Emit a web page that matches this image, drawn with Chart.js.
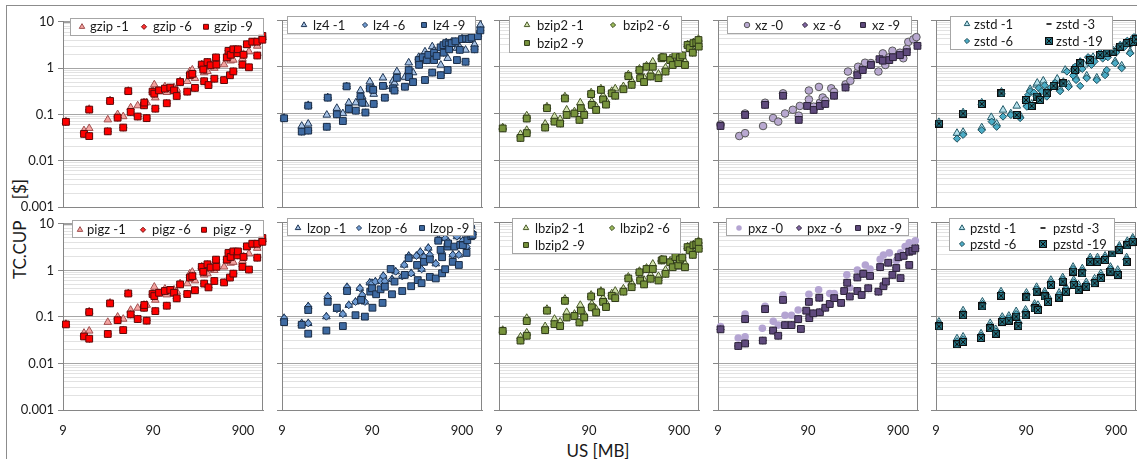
<!DOCTYPE html>
<html>
<head>
<meta charset="utf-8">
<title>TC.CUP vs US</title>
<script src="https://cdn.jsdelivr.net/npm/chart.js@4.4.1/dist/chart.umd.min.js"></script>
<style>
  body { margin: 0; width: 1137px; height: 459px; overflow: hidden; position: relative; background: #fff; font-family: Lato, sans-serif; }
  #frame { position: absolute; left: 6px; top: 5px; width: 1200px; height: 500px; border: 1px solid #8c8c8c; }
  canvas { position: absolute; }
  .title { position: absolute; font-size: 17px; color: #1a1a1a; white-space: pre; }
  #ytitle { left: 19px; top: 229px; transform: translate(-50%, -50%) rotate(-90deg); }
  #xtitle { left: 598px; top: 450px; transform: translate(-50%, -50%); }
</style>
</head>
<body>
<div id="frame"></div>
<div class="title" id="ytitle">TC.CUP     [$]</div>
<div class="title" id="xtitle">US [MB]</div>
<script>
// axis ticks
const xTicks = [9, 90, 900];
const yTicks = [0.001, 0.01, 0.1, 1, 10];
const yMinor = [2, 3, 4, 5, 6, 7, 8, 9];

// [US MB, TC.CUP $]
const gzip1 = [[9.7,0.07],[15.4,0.045],[17.6,0.05],[17.6,0.13],[28.3,0.077],[30,0.2],[36.4,0.1],[42,0.09],[47.8,0.32],[50.8,0.14],[60.8,0.155],[71.5,0.18],[76.5,0.18],[89,0.33],[93,0.44],[95.5,0.23],[122,0.4],[128,0.3],[154,0.38],[165,0.35],[180,0.52],[216,0.52],[231,0.85],[246,0.92],[263,0.6],[313,1.2],[326,1.0],[333,0.8],[362,0.85],[393,1.2],[432,1.0],[451,1.6],[554,1.19],[594,1.6],[620,2.2],[656,1.44],[702,1.5],[781,2.2],[886,1.6],[911,2.0],[993,3.1],[1047,2.28],[1140,3.5],[1295,3.0],[1477,4.6]];
const gzip9 = [[9.7,0.069],[15.4,0.038],[17.6,0.034],[17.6,0.127],[28.3,0.043],[30,0.195],[36.4,0.085],[42,0.052],[47.8,0.318],[50.8,0.113],[60.8,0.09],[71.5,0.157],[72,0.18],[76.5,0.083],[89,0.31],[93,0.28],[95.5,0.133],[105,0.33],[122,0.36],[128,0.174],[140,0.38],[154,0.33],[165,0.25],[180,0.5],[216,0.31],[231,0.7],[246,0.75],[263,0.374],[313,1.19],[326,0.93],[333,0.52],[362,1.35],[372,0.43],[393,1.15],[432,0.59],[451,1.7],[455,1.19],[554,0.55],[594,1.7],[620,2.36],[644,0.7],[656,1.94],[702,0.85],[702,2.55],[781,2.1],[790,2.55],[886,1.19],[911,1.94],[993,3.27],[1047,1.04],[1140,3.73],[1295,1.87],[1295,3.73],[1477,4.95],[1477,4.1]];
const gzip6 = gzip9; // diamonds sit under the squares

const lz4_1 = [[9.5,0.08],[14.9,0.054],[17.6,0.06],[17.6,0.15],[28.3,0.093],[29,0.22],[36.6,0.13],[42.7,0.1],[47,0.38],[49.7,0.17],[59.5,0.17],[67,0.31],[70,0.23],[76,0.16],[85,0.48],[92.7,0.35],[94,0.26],[119,0.58],[125,0.38],[154,0.5],[160,0.45],[170,0.79],[209,0.6],[230,1.22],[232,0.85],[257,0.75],[297,1.6],[300,1.4],[349,2.1],[365,1.5],[420,2.7],[440,2.2],[523,1.09],[563,2.5],[600,3.3],[623,1.52],[648,2.6],[690,3.4],[790,2.5],[850,2.6],[900,4.0],[985,2.28],[1080,4.1],[1240,3.0],[1350,5.0],[1440,7.8]];
const lz4_9 = [[9.5,0.079],[14.9,0.041],[17.6,0.043],[17.6,0.147],[28.3,0.052],[29,0.218],[36.6,0.096],[42.7,0.069],[47,0.38],[49.7,0.125],[59.5,0.115],[67,0.23],[70,0.17],[76,0.105],[85,0.345],[92.7,0.32],[94,0.16],[119,0.39],[125,0.218],[154,0.345],[160,0.31],[170,0.58],[209,0.374],[230,0.85],[232,0.6],[257,0.47],[297,1.39],[300,1.1],[330,1.6],[349,0.52],[365,1.39],[380,1.8],[420,0.75],[440,2.0],[440,1.39],[470,1.7],[520,2.6],[523,0.66],[560,2.9],[563,2.0],[600,3.2],[623,0.85],[640,3.0],[648,2.36],[690,3.2],[760,3.5],[790,1.39],[850,2.3],[900,3.9],[985,1.28],[1000,4.0],[1080,3.9],[1150,4.2],[1240,2.36],[1350,4.5],[1440,6.0]];
const lz4_6 = lz4_9;

const lzop6 = [[9.5,0.09],[14.9,0.07],[17.6,0.07],[17.6,0.16],[28,0.097],[29,0.26],[36.6,0.14],[42.7,0.11],[47.5,0.41],[49.7,0.17],[59,0.2],[66,0.39],[70,0.28],[75,0.2],[85,0.51],[90,0.5],[91,0.33],[98,0.54],[112,0.56],[120,0.71],[125,0.55],[150,0.6],[165,0.88],[195,0.7],[205,1.22],[230,1.9],[245,0.81],[280,1.9],[310,2.3],[320,0.99],[340,1.8],[380,2.8],[395,2.0],[460,1.3],[490,4.3],[540,2.2],[585,4.5],[630,3.8],[710,2.0],[790,4.9],[830,2.0],[920,4.0],[1010,3.0],[1140,8.2],[1180,6.0]];
const lzop1 = lzop6;
const lzop9 = [[9.5,0.074],[14.9,0.065],[17.6,0.042],[17.6,0.134],[28,0.049],[29,0.2],[36.6,0.15],[42.7,0.061],[47.5,0.34],[59,0.104],[68,0.22],[75,0.097],[86,0.33],[90,0.39],[91,0.15],[100,0.29],[112,0.37],[118,0.19],[125,0.42],[145,1.0],[150,0.29],[160,0.54],[195,0.34],[208,0.75],[230,1.7],[245,0.43],[285,1.22],[290,0.58],[320,0.5],[340,1.42],[395,1.6],[395,0.68],[460,0.63],[490,4.0],[520,2.55],[540,1.78],[540,0.81],[585,0.99],[620,3.0],[630,3.5],[710,1.42],[740,3.0],[830,1.22],[860,3.25],[920,3.2],[1010,2.2],[1030,4.1],[1140,5.0],[1180,5.3]];

const bzip2_1 = [[9.9,0.05],[15.6,0.036],[18.3,0.044],[18.3,0.09],[29.3,0.06],[30.7,0.14],[37.2,0.086],[43,0.075],[48.6,0.23],[50.8,0.12],[62,0.11],[72,0.17],[79.6,0.11],[95,0.28],[96.7,0.18],[108,0.14],[122,0.34],[129,0.24],[139,0.19],[161,0.3],[176,0.34],[217,0.38],[246,0.68],[268,0.5],[327,0.9],[333,0.65],[368,0.58],[392,1.05],[435,0.75],[460,1.28],[532,0.7],[577,1.6],[637,0.95],[717,1.5],[766,1.3],[884,1.4],[922,1.75],[1048,1.3],[1120,3.0],[1280,2.3],[1300,3.3],[1480,3.9]];
const bzip2_9 = [[9.9,0.048],[15.6,0.03],[18.3,0.038],[18.3,0.078],[29.3,0.05],[30.7,0.13],[37.2,0.067],[43,0.061],[48.6,0.21],[50.8,0.093],[62,0.1],[70.5,0.073],[73,0.13],[79.6,0.093],[95,0.26],[96.7,0.153],[108,0.119],[122,0.32],[129,0.2],[139,0.155],[161,0.27],[176,0.24],[217,0.33],[246,0.63],[268,0.41],[327,0.85],[333,0.57],[368,0.47],[392,1.0],[435,0.62],[460,1.0],[532,0.57],[577,1.52],[600,1.6],[637,0.79],[717,1.39],[766,1.09],[820,1.8],[884,1.19],[922,1.6],[980,1.75],[1048,1.09],[1120,2.92],[1180,2.5],[1280,2.0],[1300,3.2],[1400,3.3],[1480,3.73],[1490,2.7]];
const bzip2_6 = bzip2_9;

const xz0 = [[9.6,0.058],[15.5,0.033],[18,0.038],[18,0.1],[28.5,0.054],[30,0.17],[36.8,0.08],[42,0.067],[47.5,0.27],[50,0.1],[61,0.12],[71,0.09],[73,0.145],[92,0.31],[92,0.2],[104,0.14],[119,0.37],[122,0.17],[131,0.22],[140,0.19],[163,0.345],[175,0.29],[235,0.42],[250,0.79],[266,0.5],[318,0.75],[324,1.0],[365,0.95],[387,1.22],[450,1.2],[545,0.79],[610,1.93],[650,1.09],[720,1.6],[780,2.2],[945,2.0],[1030,1.52],[1125,2.4],[1170,3.4],[1330,3.86],[1440,4.3]];
const xz9 = [[9.6,0.054],[18,0.093],[30,0.153],[47.5,0.24],[71,0.073],[88,0.145],[104,0.119],[122,0.145],[140,0.16],[175,0.24],[235,0.36],[318,0.66],[365,0.85],[450,1.09],[560,1.45],[610,1.35],[720,1.39],[790,1.6],[945,1.78],[1125,2.05],[1480,2.8]];
const xz6 = xz9;

const pxz0 = [[9.6,0.06],[15.1,0.034],[18,0.036],[18,0.11],[28,0.055],[30,0.16],[37,0.077],[42,0.064],[47.5,0.28],[50,0.104],[59,0.104],[70,0.134],[92,0.29],[118,0.36],[157,0.3],[176,0.3],[243,0.75],[262,0.4],[318,0.95],[390,1.22],[440,1.0],[570,1.6],[620,1.98],[720,2.2],[860,1.5],[960,2.2],[1080,3.0],[1200,3.6],[1400,4.0]];
const pxz9 = [[9.6,0.052],[15.1,0.023],[18,0.026],[18,0.086],[28.3,0.03],[30,0.14],[36.8,0.049],[42,0.038],[47.5,0.22],[50,0.064],[59,0.064],[70,0.086],[75,0.053],[86,0.13],[93,0.09],[92,0.2],[103,0.114],[120,0.245],[122,0.12],[140,0.15],[157,0.18],[176,0.24],[210,0.19],[227,0.34],[245,0.51],[262,0.26],[318,0.66],[318,0.34],[355,0.28],[370,0.79],[420,0.39],[440,0.71],[545,0.33],[570,1.1],[620,0.43],[660,0.54],[700,1.36],[780,0.75],[860,1.05],[910,1.78],[960,0.64],[1040,1.9],[1200,1.22],[1200,2.33],[1300,2.45],[1400,2.75]];
const pxz6 = pxz9;

const zstd1 = [[9.7,0.065],[15.4,0.038],[18,0.04],[18,0.105],[29,0.05],[29,0.17],[37,0.083],[42.5,0.06],[48,0.29],[50,0.119],[61,0.1],[71,0.145],[77.5,0.09],[90,0.2],[92,0.16],[100,0.33],[104,0.16],[118,0.41],[120,0.45],[129,0.22],[140,0.5],[153,0.3],[182,0.42],[200,0.55],[215,0.34],[234,0.47],[245,0.85],[267,0.42],[300,0.9],[316,0.9],[324,0.58],[360,1.25],[400,1.1],[425,0.64],[463,1.45],[500,1.6],[550,0.58],[600,1.9],[680,0.75],[700,1.8],[710,2.0],[840,2.2],[880,1.3],[900,2.3],[1000,2.8],[1040,1.05],[1100,3.0],[1180,3.3],[1290,2.1],[1390,3.6],[1500,4.0]];
const zstd6 = [[15.4,0.029],[18,0.035],[29,0.044],[37.4,0.067],[42.5,0.052],[50,0.086],[61,0.093],[77.5,0.08],[92,0.14],[95,0.25],[100,0.3],[110,0.28],[118,0.23],[125,0.35],[135,0.3],[145,0.4],[153,0.23],[170,0.36],[190,0.45],[215,0.3],[256,0.79],[267,0.37],[300,0.65],[316,1.0],[324,0.52],[330,0.8],[360,0.39],[360,1.3],[380,0.9],[425,0.57],[440,1.6],[480,1.1],[520,1.3],[550,0.52],[600,2.0],[640,1.5],[680,0.66],[710,0.85],[730,1.6],[770,2.4],[880,1.19],[900,2.0],[1000,2.9],[1040,0.93],[1100,2.6],[1200,3.6],[1290,1.94],[1300,3.0],[1420,4.3]];
const zstd19 = [[9.7,0.061],[18,0.1],[29,0.16],[48,0.27],[71,0.093],[90,0.195],[104,0.145],[118,0.23],[129,0.195],[153,0.27],[182,0.39],[234,0.44],[316,0.85],[360,1.19],[463,1.39],[600,1.78],[710,1.94],[840,2.1],[1000,2.7],[1180,3.2],[1390,3.4],[1500,3.86]];
const zstd3 = zstd19;

const pzstd1 = [[9.7,0.075],[15.4,0.033],[18,0.036],[18,0.13],[28.5,0.042],[29.5,0.2],[36,0.07],[41.5,0.052],[47.5,0.33],[49,0.095],[58,0.1],[70,0.125],[74,0.078],[89,0.135],[91,0.31],[112,0.18],[118,0.41],[122,0.17],[145,0.33],[158,0.26],[170,0.58],[210,0.31],[230,0.66],[250,0.41],[300,1.1],[305,0.58],[345,0.46],[380,1.02],[420,0.52],[465,1.75],[520,0.62],[560,1.75],[610,0.8],[680,1.9],[780,1.1],[820,2.6],[940,0.95],[980,3.1],[1180,1.75],[1200,3.9],[1380,4.6]];
const pzstd6 = [[9.7,0.068],[15.4,0.029],[18,0.032],[18,0.115],[28.5,0.038],[29.5,0.18],[36,0.062],[41.5,0.047],[47.5,0.3],[49,0.085],[58,0.09],[70,0.11],[74,0.07],[89,0.12],[91,0.28],[112,0.165],[118,0.37],[122,0.15],[145,0.3],[158,0.23],[170,0.52],[210,0.28],[230,0.6],[250,0.37],[300,1.0],[305,0.52],[345,0.41],[380,0.92],[420,0.47],[465,1.6],[520,0.56],[560,1.6],[610,0.72],[680,1.75],[780,1.0],[820,2.4],[940,0.85],[980,2.9],[1180,1.6],[1200,3.6],[1380,4.3]];
const pzstd19 = [[9.7,0.06],[15.4,0.025],[18,0.028],[18,0.104],[28.5,0.034],[29.5,0.16],[36,0.055],[41.5,0.042],[47.5,0.27],[49,0.075],[58,0.08],[70,0.097],[74,0.061],[89,0.104],[91,0.25],[112,0.145],[118,0.33],[122,0.134],[145,0.26],[158,0.2],[170,0.46],[210,0.245],[230,0.54],[250,0.33],[300,0.88],[305,0.46],[345,0.36],[380,0.81],[420,0.42],[465,1.42],[520,0.5],[560,1.42],[610,0.64],[680,1.55],[780,0.88],[820,2.15],[940,0.75],[980,2.55],[1180,1.42],[1200,3.2],[1380,3.8]];
const pzstd3 = pzstd19;

// markers
function crossSquare(fill) {
    const c = document.createElement('canvas');
    c.width = 8; c.height = 8;
    const g = c.getContext('2d');
    g.fillStyle = fill;
    g.fillRect(0, 0, 8, 8);
    g.strokeStyle = '#0d0d0d';
    g.lineWidth = 1;
    g.strokeRect(0.5, 0.5, 7, 7);
    g.beginPath();
    g.moveTo(1.5, 1.5); g.lineTo(6.5, 6.5);
    g.moveTo(6.5, 1.5); g.lineTo(1.5, 6.5);
    g.stroke();
    return c;
}
const TRI = (fill, line) => ({ style: 'triangle', r: 4.4, fill, line, bw: 1 });
const DIA = (fill, line) => ({ style: 'rectRot', r: 3.6, fill, line, bw: 1 });
const SQ = (fill, line) => ({ style: 'rect', r: 4.8, fill, line, bw: 1 });
const CIR = (fill, line, bw) => ({ style: 'circle', r: 3.8, fill, line, bw });
const DASH = (line) => ({ style: 'line', r: 3.5, fill: line, line, bw: 2 });
const XSQ = (fill) => ({ style: crossSquare(fill), r: 4.5, fill, line: '#0d0d0d', bw: 1 });

const zstdMarks = [TRI('#b7e1ec', '#235a68'), DASH('#3a3a3a'), DIA('#4bacc6', '#1f4e5a'), XSQ('#23707f')];

const panels = [
    { col: 0, row: 0, series: [
        ['gzip -1', gzip1, TRI('#f4a3a0', '#a05050')],
        ['gzip -6', gzip6, DIA('#ff3030', '#7a1010')],
        ['gzip -9', gzip9, SQ('#ff0000', '#5c0a0a')]],
      legend: { box: [7, -4, 193, 17], items: [[0, 19, 27, 5], [1, 81, 90, 5], [2, 143, 151, 5]] } },
    { col: 1, row: 0, series: [
        ['lz4 -1', lz4_1, TRI('#a7c3e6', '#1f3553')],
        ['lz4 -6', lz4_6, DIA('#6f9bd2', '#1f3553')],
        ['lz4 -9', lz4_9, SQ('#3e6aa2', '#1a2c45')]],
      legend: { box: [5, -4, 188, 17], items: [[0, 22, 31, 5], [1, 83, 91, 5], [2, 142, 151, 5]] } },
    { col: 2, row: 0, series: [
        ['bzip2 -1', bzip2_1, TRI('#d4e4b0', '#4a5a2a')],
        ['bzip2 -6', bzip2_6, DIA('#9bbb59', '#3b4a1e')],
        ['bzip2 -9', bzip2_9, SQ('#77933c', '#2f3a18')]],
      legend: { box: [10, -4, 172, 36], items: [[0, 28, 38, 5], [1, 114, 124, 5], [2, 28, 38, 23]] } },
    { col: 3, row: 0, series: [
        ['xz -0', xz0, CIR('#b8a8d0', '#595959', 1)],
        ['xz -6', xz6, DIA('#8064a2', '#2b2238')],
        ['xz -9', xz9, SQ('#5f4a7d', '#2b2238')]],
      legend: { box: [9, -4, 184, 17], items: [[0, 29, 37, 5], [1, 87, 95, 5], [2, 145, 154, 5]] } },
    { col: 4, row: 0, series: [
        ['zstd -1', zstd1, zstdMarks[0]],
        ['zstd -3', zstd3, zstdMarks[1]],
        ['zstd -6', zstd6, zstdMarks[2]],
        ['zstd -19', zstd19, zstdMarks[3]]],
      legend: { box: [14, -4, 162, 33], items: [[0, 31, 38, 4], [1, 113, 120, 4], [2, 31, 38, 21], [3, 113, 120, 21]] } },
    { col: 0, row: 1, series: [
        ['pigz -1', gzip1, TRI('#f4a3a0', '#a05050')],
        ['pigz -6', gzip6, DIA('#ff3030', '#7a1010')],
        ['pigz -9', gzip9, SQ('#ff0000', '#5c0a0a')]],
      legend: { box: [9, -4, 191, 17], items: [[0, 17, 24, 6], [1, 80, 89, 6], [2, 141, 150, 6]] } },
    { col: 1, row: 1, series: [
        ['lzop -1', lzop1, TRI('#a7c3e6', '#1f3553')],
        ['lzop -6', lzop6, DIA('#6f9bd2', '#1f3553')],
        ['lzop -9', lzop9, SQ('#3e6aa2', '#1a2c45')]],
      legend: { box: [5, -4, 186, 17], items: [[0, 16, 25, 6], [1, 77, 86, 6], [2, 140, 148, 6]] } },
    { col: 2, row: 1, series: [
        ['lbzip2 -1', bzip2_1, TRI('#d4e4b0', '#4a5a2a')],
        ['lbzip2 -6', bzip2_6, DIA('#9bbb59', '#3b4a1e')],
        ['lbzip2 -9', bzip2_9, SQ('#77933c', '#2f3a18')]],
      legend: { box: [13, -4, 168, 35], items: [[0, 27, 36, 6], [1, 113, 121, 6], [2, 27, 36, 23]] } },
    { col: 3, row: 1, series: [
        ['pxz -0', pxz0, CIR('#b4a4d2', '#b4a4d2', 0)],
        ['pxz -6', pxz6, DIA('#8064a2', '#2b2238')],
        ['pxz -9', pxz9, SQ('#5f4a7d', '#2b2238')]],
      legend: { box: [8, -4, 182, 17], items: [[0, 21, 30, 6], [1, 81, 89, 6], [2, 140, 149, 6]] } },
    { col: 4, row: 1, series: [
        ['pzstd -1', pzstd1, zstdMarks[0]],
        ['pzstd -3', pzstd3, zstdMarks[1]],
        ['pzstd -6', pzstd6, zstdMarks[2]],
        ['pzstd -19', pzstd19, zstdMarks[3]]],
      legend: { box: [13, -4, 165, 32], items: [[0, 26, 34, 6], [1, 107, 117, 6], [2, 26, 34, 22], [3, 107, 117, 22]] } }
];

// layout of the grid
const plotLefts = [63, 282, 499, 718, 936];
const plotTops = [20, 222];
const plotHeights = [187, 188];
const plotW = 200, axisW = 60, axisH = 32, padT = 10, padR = 12;
const font = { family: 'Lato', size: 13 };

const boxLegend = {
    id: 'boxLegend',
    beforeDatasetsDraw(chart) {
        const a = chart.chartArea, ctx = chart.ctx;
        ctx.save();
        ctx.strokeStyle = '#868686';
        ctx.lineWidth = 1;
        ctx.strokeRect(a.left + 0.5, a.top + 0.5, a.width - 1, a.height);
        ctx.restore();
    },
    afterDraw(chart, args, opts) {
        const a = chart.chartArea, ctx = chart.ctx;
        const [bx, by, bw, bh] = opts.box;
        ctx.save();
        ctx.fillStyle = '#fff';
        ctx.fillRect(a.left + bx, a.top + by, bw, bh);
        ctx.strokeStyle = '#a6a6a6';
        ctx.lineWidth = 1;
        ctx.strokeRect(Math.round(a.left + bx) + 0.5, Math.round(a.top + by) + 0.5, bw, bh);
        ctx.font = '13px Lato';
        ctx.textBaseline = 'middle';
        opts.items.forEach(([i, mx, tx, ry]) => {
            const ds = chart.data.datasets[i];
            ctx.fillStyle = ds.backgroundColor;
            ctx.strokeStyle = ds.borderColor;
            ctx.lineWidth = ds.borderWidth;
            Chart.helpers.drawPoint(ctx, {
                pointStyle: ds.pointStyle, rotation: 0,
                radius: ds.pointRadius * 0.72, borderWidth: ds.borderWidth
            }, a.left + mx, a.top + ry);
            ctx.fillStyle = '#1a1a1a';
            ctx.fillText(ds.label, a.left + tx, a.top + ry + 0.5);
        });
        ctx.restore();
    }
};

function yTickList() {
    const list = [];
    yTicks.slice(0, -1).forEach(d => {
        list.push({ value: d });
        yMinor.forEach(m => list.push({ value: +(d * m).toPrecision(3) }));
    });
    list.push({ value: yTicks[yTicks.length - 1] });
    return list;
}
const isMajorY = v => yTicks.includes(v);

panels.forEach(p => {
    const plotH = plotHeights[p.row];
    const canvas = document.createElement('canvas');
    canvas.width = axisW + plotW + padR;
    canvas.height = padT + plotH + axisH;
    canvas.style.left = (plotLefts[p.col] - axisW) + 'px';
    canvas.style.top = (plotTops[p.row] - padT) + 'px';
    document.body.appendChild(canvas);

    const n = p.series.length;
    new Chart(canvas.getContext('2d'), {
        type: 'scatter',
        data: {
            datasets: p.series.map(([label, data, m], i) => ({
                label: label,
                data: data,
                order: n - i,
                pointStyle: m.style,
                pointRadius: m.r,
                backgroundColor: m.fill,
                borderColor: m.line,
                borderWidth: m.bw,
                clip: false
            }))
        },
        options: {
            responsive: false,
            animation: false,
            events: [],
            layout: { padding: { top: padT, right: padR, left: 0, bottom: 0 } },
            plugins: {
                legend: { display: false },
                tooltip: { enabled: false },
                boxLegend: p.legend
            },
            scales: {
                x: {
                    type: 'logarithmic',
                    min: 9,
                    max: 1500,
                    afterFit: s => { s.height = axisH; },
                    afterBuildTicks: s => { s.ticks = xTicks.map(v => ({ value: v })); },
                    grid: { display: false },
                    border: { color: '#868686' },
                    ticks: {
                        display: p.row === 1,
                        autoSkip: false,
                        maxRotation: 0,
                        padding: 5,
                        color: '#1a1a1a',
                        font: font,
                        callback: v => String(v)
                    }
                },
                y: {
                    type: 'logarithmic',
                    min: 0.001,
                    max: 10,
                    afterFit: s => { s.width = axisW; },
                    afterBuildTicks: s => { s.ticks = yTickList(); },
                    grid: {
                        color: c => (c.tick && isMajorY(c.tick.value)) ? '#a6a6a6' : '#e2e2e2',
                        tickColor: c => (c.tick && isMajorY(c.tick.value)) ? '#868686' : 'rgba(0,0,0,0)',
                        tickLength: 5
                    },
                    border: { color: '#868686' },
                    ticks: {
                        display: p.col === 0,
                        autoSkip: false,
                        padding: 4,
                        color: '#1a1a1a',
                        font: font,
                        callback: v => isMajorY(v) ? String(v) : ''
                    }
                }
            }
        },
        plugins: [boxLegend]
    });
});
</script>
</body>
</html>
